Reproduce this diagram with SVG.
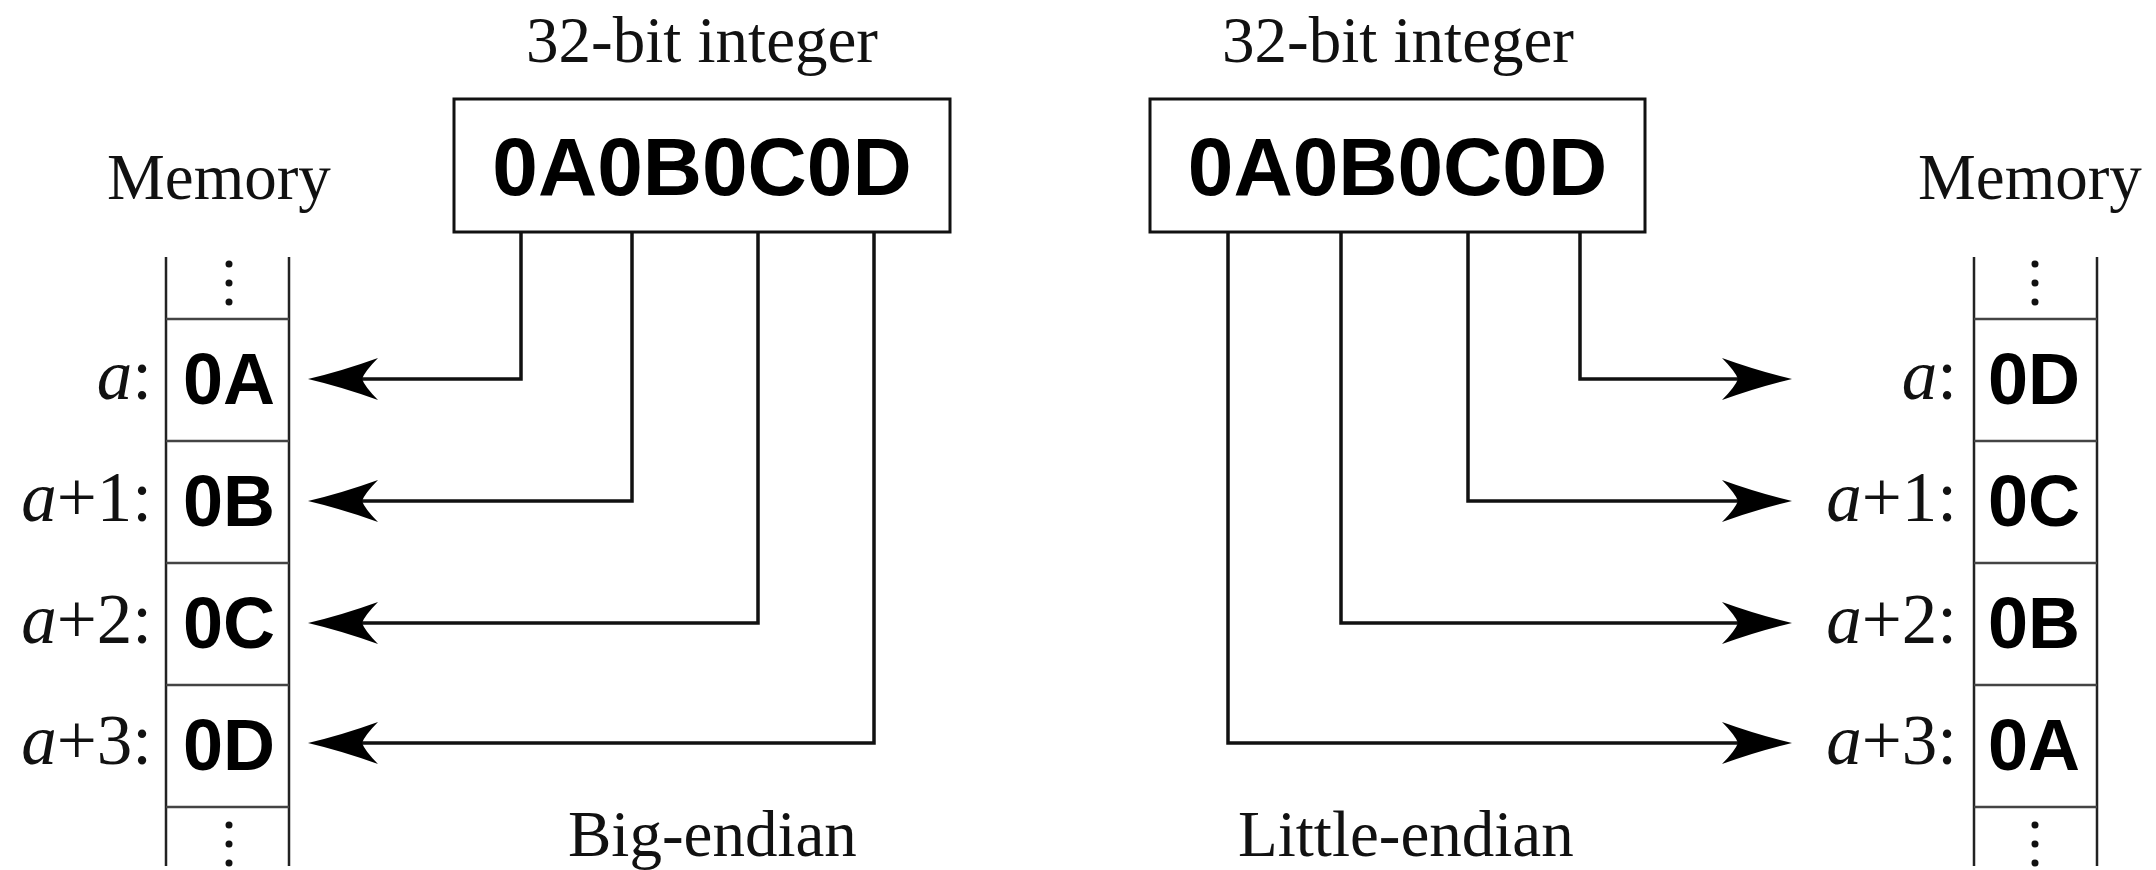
<svg xmlns="http://www.w3.org/2000/svg" width="2156" height="870" viewBox="0 0 2156 870">
  <style>
    .cap { font-family: "Liberation Serif", "Times New Roman", serif; font-size: 65px; fill: #111; }
    .lbl { font-family: "Liberation Serif", "Times New Roman", serif; font-size: 71px; fill: #111; text-anchor: end; }
    .hex { font-family: "Liberation Sans", Arial, sans-serif; font-weight: bold; font-size: 82px; fill: #000; text-anchor: middle; }
    .byte { font-family: "Liberation Sans", Arial, sans-serif; font-weight: bold; font-size: 72px; fill: #000; text-anchor: middle; }
    .box { fill: #fff; stroke: #111; stroke-width: 3; }
    .wall { stroke: #222; stroke-width: 2.5; fill: none; }
    .sep { stroke: #444; stroke-width: 2.5; fill: none; }
    .dot { fill: #111; }
    .wire { fill: none; stroke: #111; stroke-width: 3.5; marker-end: url(#barb); }
  </style>
  <defs>
    <marker id="barb" markerUnits="userSpaceOnUse" viewBox="-72 -24 74 48" refX="-54" refY="0" markerWidth="74" markerHeight="48" orient="auto">
      <path d="M0,0 Q-34,-8 -70,-21 Q-57,-8 -54,0 Q-57,8 -70,21 Q-34,8 0,0 Z" fill="#000"/>
    </marker>
  </defs>

  <rect width="2156" height="870" fill="#fff"/>

  <!-- big-endian: integer box -->
  <g id="int-big">
    <text class="cap" x="526" y="62">32-bit integer</text>
    <rect class="box" x="454" y="99" width="496" height="133"/>
    <text class="hex" x="702" y="195">0A0B0C0D</text>
  </g>

  <!-- big-endian: memory column -->
  <g id="mem-big">
    <text class="cap" x="107" y="199">Memory</text>
    <rect x="166" y="319" width="123" height="488" fill="#fff"/>
    <line class="wall" x1="166" y1="257" x2="166" y2="866"/>
    <line class="wall" x1="289" y1="257" x2="289" y2="866"/>
    <line class="sep" x1="166" y1="319" x2="289" y2="319"/>
    <line class="sep" x1="166" y1="441" x2="289" y2="441"/>
    <line class="sep" x1="166" y1="563" x2="289" y2="563"/>
    <line class="sep" x1="166" y1="685" x2="289" y2="685"/>
    <line class="sep" x1="166" y1="807" x2="289" y2="807"/>
    <circle class="dot" cx="229" cy="264" r="3.5"/>
    <circle class="dot" cx="229" cy="283" r="3.5"/>
    <circle class="dot" cx="229" cy="302" r="3.5"/>
    <circle class="dot" cx="229" cy="825" r="3.5"/>
    <circle class="dot" cx="229" cy="844" r="3.5"/>
    <circle class="dot" cx="229" cy="863" r="3.5"/>
    <text class="byte" x="229" y="404">0A</text>
    <text class="byte" x="229" y="526">0B</text>
    <text class="byte" x="229" y="648">0C</text>
    <text class="byte" x="229" y="770">0D</text>
    <text class="lbl" x="152" y="399"><tspan font-style="italic">a</tspan>:</text>
    <text class="lbl" x="152" y="521"><tspan font-style="italic">a</tspan>+1:</text>
    <text class="lbl" x="152" y="643"><tspan font-style="italic">a</tspan>+2:</text>
    <text class="lbl" x="152" y="764"><tspan font-style="italic">a</tspan>+3:</text>
    <text class="cap" x="568" y="856">Big-endian</text>
  </g>

  <!-- little-endian: integer box -->
  <g id="int-little">
    <text class="cap" x="1222" y="62">32-bit integer</text>
    <rect class="box" x="1150" y="99" width="495" height="133"/>
    <text class="hex" x="1397.5" y="195">0A0B0C0D</text>
  </g>

  <!-- little-endian: memory column -->
  <g id="mem-little">
    <text class="cap" x="1918" y="199">Memory</text>
    <rect x="1974" y="319" width="123" height="488" fill="#fff"/>
    <line class="wall" x1="1974" y1="257" x2="1974" y2="866"/>
    <line class="wall" x1="2097" y1="257" x2="2097" y2="866"/>
    <line class="sep" x1="1974" y1="319" x2="2097" y2="319"/>
    <line class="sep" x1="1974" y1="441" x2="2097" y2="441"/>
    <line class="sep" x1="1974" y1="563" x2="2097" y2="563"/>
    <line class="sep" x1="1974" y1="685" x2="2097" y2="685"/>
    <line class="sep" x1="1974" y1="807" x2="2097" y2="807"/>
    <circle class="dot" cx="2035" cy="264" r="3.5"/>
    <circle class="dot" cx="2035" cy="283" r="3.5"/>
    <circle class="dot" cx="2035" cy="302" r="3.5"/>
    <circle class="dot" cx="2035" cy="825" r="3.5"/>
    <circle class="dot" cx="2035" cy="844" r="3.5"/>
    <circle class="dot" cx="2035" cy="863" r="3.5"/>
    <text class="byte" x="2034" y="404">0D</text>
    <text class="byte" x="2034" y="526">0C</text>
    <text class="byte" x="2034" y="648">0B</text>
    <text class="byte" x="2034" y="770">0A</text>
    <text class="lbl" x="1957" y="399"><tspan font-style="italic">a</tspan>:</text>
    <text class="lbl" x="1957" y="521"><tspan font-style="italic">a</tspan>+1:</text>
    <text class="lbl" x="1957" y="643"><tspan font-style="italic">a</tspan>+2:</text>
    <text class="lbl" x="1957" y="764"><tspan font-style="italic">a</tspan>+3:</text>
    <text class="cap" x="1238" y="856">Little-endian</text>
  </g>

  <!-- byte connectors -->
  <g id="connectors">
    <path class="wire" d="M521,232 V379 H362"/>
    <path class="wire" d="M632,232 V501 H362"/>
    <path class="wire" d="M758,232 V623 H362"/>
    <path class="wire" d="M874,232 V743 H362"/>
    <path class="wire" d="M1580,232 V379 H1738"/>
    <path class="wire" d="M1468,232 V501 H1738"/>
    <path class="wire" d="M1341,232 V623 H1738"/>
    <path class="wire" d="M1228,232 V743 H1738"/>
  </g>
</svg>
